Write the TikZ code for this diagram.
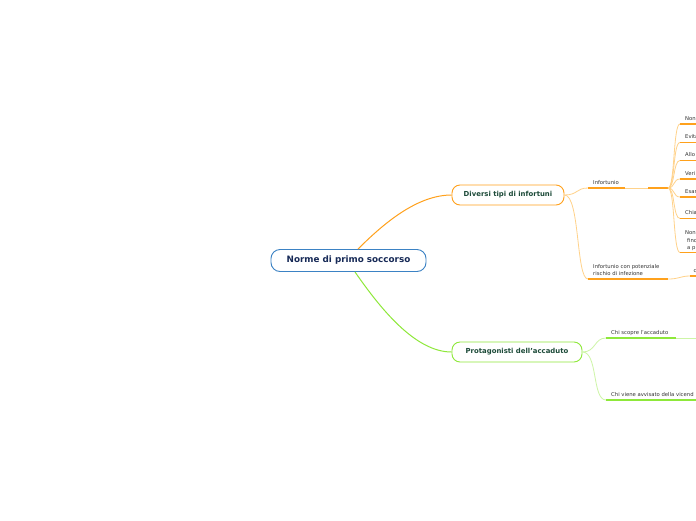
\documentclass[tikz,border=0pt]{standalone}
\usepackage{fontspec}
\setmainfont{DejaVu Sans}
\definecolor{oT}{HTML}{FFA11C}
\definecolor{oL}{HTML}{FFD28A}
\definecolor{gT}{HTML}{8EE83A}
\definecolor{gL}{HTML}{CDF5A6}
\definecolor{rootblue}{HTML}{3B82C4}
\definecolor{navy}{HTML}{172A57}
\definecolor{dkgreen}{HTML}{1C4A38}
\definecolor{txt}{HTML}{333333}
\tikzset{
  rootbox/.style={draw=rootblue, line width=0.9pt, rounded corners=9pt, fill=white,
    minimum width=155pt, minimum height=22pt, inner sep=0pt, text=navy,
    font=\fontsize{8.8}{10}\selectfont\bfseries},
  mainbox/.style={line width=0.9pt, rounded corners=8pt, fill=white,
    minimum height=20pt, inner sep=0pt, text=dkgreen,
    font=\fontsize{6.9}{8}\selectfont\bfseries},
  small/.style={inner sep=0pt, anchor=base west, text=txt, font=\fontsize{5.3}{7.6}\selectfont},
  conO/.style={draw=oT, line width=1pt},
  conG/.style={draw=gT, line width=1pt},
  conOL/.style={draw=oL, line width=0.8pt},
  conGL/.style={draw=gL, line width=0.8pt},
  ulO/.style={draw=oT, line width=1.6pt},
  ulG/.style={draw=gT, line width=1.6pt},
}
\begin{document}
\begin{tikzpicture}[x=1pt,y=-1pt]
\useasboundingbox (0,0) rectangle (696,520);
\clip (0,0) rectangle (696,520);
\fill[white] (0,0) rectangle (696,520);

% main nodes
\node[rootbox] (root) at (348.5,260.5) {Norme di primo soccorso};
\node[mainbox, draw=oT, minimum width=112pt] (n1) at (508,195) {Diversi tipi di infortuni};
\node[mainbox, draw=gT, minimum width=130pt] (n2) at (517,352) {Protagonisti dell'accaduto};

% root connectors
\draw[conO] ([xshift=9.5pt]root.north) .. controls (385,222) and (418,195) .. (n1.west);
\draw[conG] ([xshift=6.5pt]root.south) .. controls (380,308) and (415,352) .. (n2.west);

% Diversi tipi di infortuni subtopics
\coordinate (s1) at (588,188);
\coordinate (s1a) at (625,188);
\coordinate (s1b) at (648,188);
\coordinate (b1) at (668,188);
\coordinate (s2) at (588,279);
\coordinate (s2e) at (668,279);
\coordinate (c2) at (690,276);
\coordinate (c2e) at (700,276);

\draw[conOL] (n1.east) .. controls (578,195) and (576,188) .. (s1);
\draw[conOL] (n1.east) .. controls (580,195) and (576,279) .. (s2);
\draw[ulO] (s1) -- (s1a);
\draw[conOL] (s1a) -- (s1b);
\draw[ulO] (s1b) -- (b1);
\node[small] (t1) at (593,184.5) {Infortunio};

\draw[ulO] (s2) -- (s2e);
\draw[conOL] (s2e) .. controls (680,279) and (680,276) .. (c2);
\draw[ulO] (c2) -- (c2e);
\node[small] (t2a) at (593,268) {Infortunio con potenziale};
\node[small] (t2b) at (593,275.5) {rischio di infezione};
\node[small] (t2c) at (693.5,272) {c};

% children of Infortunio
\foreach \nm/\uy in {k1/124, k2/142.5, k3/160.5, k4/179, k5/197, k6/218.5, k7/252.5}{
  \coordinate (\nm s) at (680,\uy);
  \coordinate (\nm e) at (700,\uy);
  \draw[conOL] (b1) .. controls (675,188) and (673,\uy) .. (\nm s);
  \draw[ulO] (\nm s) -- (\nm e);
}
\node[small] (k1t) at (685,120) {Non};
\node[small] (k2t) at (685,138.5) {Evita};
\node[small] (k3t) at (685,156.5) {Allo};
\node[small] (k4t) at (685,175) {Veri};
\node[small] (k5t) at (685,193) {Esar};
\node[small] (k6t) at (685,214.5) {Chia};
\node[small] (k7t) at (685,234.5) {Non};
\node[small] (k7u) at (687,242) {fino};
\node[small] (k7v) at (687,249.5) {a p};

% Protagonisti subtopics
\coordinate (p1) at (606,338);
\coordinate (p1a) at (676,338);
\coordinate (p1e) at (700,338);
\coordinate (p2) at (606,400);
\coordinate (p2e) at (700,400);
\draw[conGL] (n2.east) .. controls (596,352) and (594,338) .. (p1);
\draw[conGL] (n2.east) .. controls (598,352) and (592,400) .. (p2);
\draw[ulG] (p1) -- (p1a);
\draw[conGL] (p1a) -- (p1e);
\draw[ulG] (p2) -- (p2e);
\node[small] (q1) at (611,334) {Chi scopre l'accaduto};
\node[small] (q2) at (611,396) {Chi viene avvisato della vicend};
\end{tikzpicture}
\end{document}
